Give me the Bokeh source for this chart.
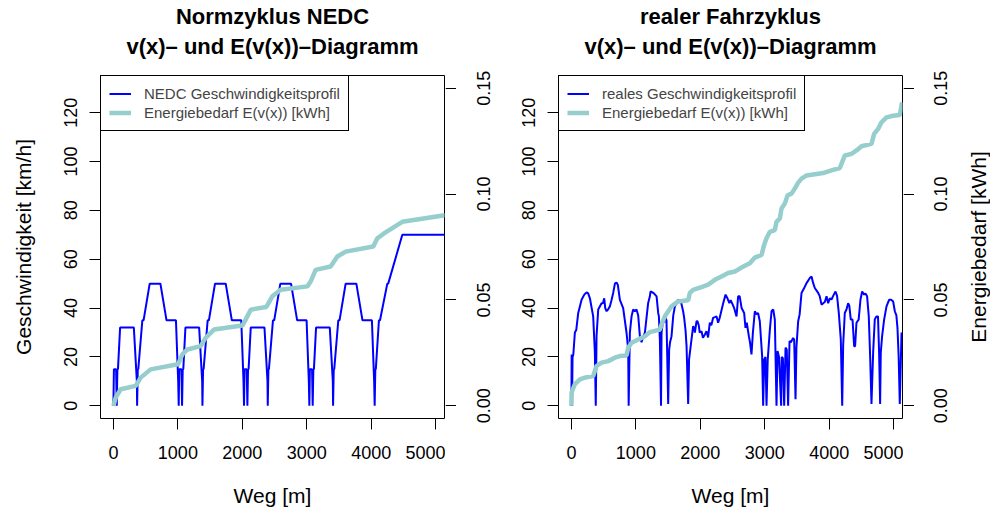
from bokeh.plotting import figure
from bokeh.models import (Range1d, LinearAxis, FixedTicker, Legend, Grid,
                          LegendItem, PrintfTickFormatter)
from bokeh.layouts import row
from bokeh.embed import file_html
from bokeh.resources import INLINE

FONT = "Liberation Sans"
BLUE = "#0000FF"
TEAL = "#96CDCD"

# ---------------- data: NEDC ----------------
nedc_weg = [0, 8, 42, 52, 62, 71, 104, 317, 364, 368, 378, 386, 449, 468, 563, 729, 824, 970, 1005,
            1013, 1021, 1055, 1065, 1075, 1084, 1117, 1330, 1377, 1381, 1391, 1399, 1462, 1481, 1576, 1742, 1837, 1983, 2018,
            2026, 2034, 2068, 2078, 2088, 2097, 2130, 2343, 2390, 2394, 2404, 2412, 2475, 2494, 2589, 2755, 2850, 2996, 3031,
            3039, 3047, 3081, 3091, 3101, 3110, 3143, 3356, 3403, 3407, 3417, 3425, 3488, 3507, 3602, 3768, 3863, 4009, 4044,
            4052, 4062, 4070, 4118, 4135, 4248, 4262, 4481, 5400]
nedc_v = [0, 15, 15, 0, 15, 15, 32, 32, 10, 0, 15, 15, 35, 35, 50, 50, 35, 35, 10,
          0, 15, 15, 0, 15, 15, 32, 32, 10, 0, 15, 15, 35, 35, 50, 50, 35, 35, 10,
          0, 15, 15, 0, 15, 15, 32, 32, 10, 0, 15, 15, 35, 35, 50, 50, 35, 35, 10,
          0, 15, 15, 0, 15, 15, 32, 32, 10, 0, 15, 15, 35, 35, 50, 50, 35, 35, 10,
          0, 15, 15, 35, 35, 50, 50, 70, 70]
nedc_e_weg = [0, 36, 113, 346, 423, 578, 1002, 1069, 1147, 1353, 1431, 1560, 2000, 2051, 2129, 2372,
              2465, 2594, 3008, 3059, 3136, 3369, 3473, 3602, 4031, 4093, 4196, 4481, 5137, 5400]
nedc_e = [0.0, 0.0039, 0.0078, 0.0094, 0.0133, 0.0172, 0.0196, 0.0243, 0.0266, 0.0282, 0.0321, 0.0360,
          0.0379, 0.0407, 0.0454, 0.0467, 0.0517, 0.0548, 0.0564, 0.0587, 0.0642, 0.0658, 0.0705, 0.0728,
          0.0752, 0.0791, 0.0814, 0.0869, 0.0900, 0.0915]

# ---------------- data: real driving cycle ----------------
real_weg = [0, 4, 10, 18, 30, 54, 75, 106, 158, 200, 235, 260, 287, 338, 364, 378, 390, 416, 468, 490,
            509, 525, 546, 570, 597, 620, 648, 675, 700, 720, 752, 803, 855, 881, 888, 907, 933, 958, 984,
            1010, 1036, 1062, 1088, 1110, 1140, 1165, 1190, 1217, 1228, 1250, 1280, 1321, 1346, 1357, 1372,
            1390, 1398, 1423, 1440, 1450, 1465, 1475, 1501, 1516, 1530, 1553, 1580, 1605, 1631, 1656, 1680,
            1700, 1733, 1749, 1770, 1786, 1811, 1825, 1863, 1888, 1900, 1915, 1941, 1956, 1975, 1990, 2018,
            2040, 2070, 2095, 2120, 2147, 2170, 2198, 2225, 2251, 2275, 2300, 2318, 2354, 2391, 2420, 2450,
            2470, 2500, 2524, 2561, 2586, 2610, 2640, 2679, 2700, 2720, 2752, 2770, 2793, 2815, 2845, 2870,
            2895, 2922, 2958, 2974, 2990, 3010, 3026, 3045, 3078, 3104, 3130, 3155, 3181, 3197, 3220, 3253,
            3262, 3280, 3300, 3321, 3340, 3361, 3383, 3405, 3439, 3455, 3476, 3490, 3517, 3540, 3569, 3610,
            3647, 3698, 3724, 3750, 3775, 3827, 3850, 3879, 3905, 3930, 3957, 3982, 4008, 4034, 4060, 4096,
            4120, 4147, 4178, 4200, 4215, 4240, 4266, 4292, 4310, 4333, 4360, 4385, 4400, 4421, 4455, 4483,
            4509, 4540, 4560, 4586, 4612, 4633, 4654, 4680, 4705, 4731, 4755, 4772, 4788, 4798, 4819, 4850,
            4887, 4927, 4960, 4990, 5016, 5040, 5057, 5075, 5093, 5120]
real_v = [0, 21, 0, 20, 21, 30, 31, 38, 43.4, 45.5, 46.4, 46, 44, 36.6, 21.8, 0, 28.5, 39.4, 42, 42,
          44, 40, 38.7, 39.5, 40.7, 43, 46.2, 50, 50.5, 49.5, 43.4, 40, 29.9, 23, 0, 29.9, 36.6, 39.4, 38.7,
          39.4, 37, 28.5, 26, 28, 29.9, 36, 42, 44.8, 46.8, 46.5, 46, 44.8, 38, 36.6, 27.2,
          0, 30, 35.3, 34, 37.3, 35.5, 35, 0.7, 23, 26, 28.5, 37, 40.7, 42, 43.4, 43,
          42.5, 38.7, 36, 31, 24.4, 0.7, 19, 27.2, 32.6, 32, 30, 34.6, 34.6, 33, 30, 30.5,
          27.8, 29.2, 30.5, 28, 34, 33, 36, 36.3, 36.6, 34, 36, 38, 42, 45.5, 44, 42,
          43.2, 41.5, 40, 36.6, 44.8, 44.8, 40, 38, 31.9, 34, 28.5, 26, 21, 30, 38.7, 37.5,
          38, 34.6, 20.4, 0, 19, 20, 0, 19, 31.2, 38.7, 39.5, 35.3, 0, 22.4, 20, 0,
          20, 19.5, 0, 23.8, 23, 0, 26.5, 26, 27.8, 27, 2.7, 24, 34.6, 37.5, 46.2, 48.2,
          50.2, 52.3, 52.9, 50.2, 48.2, 46.2, 45, 41.4, 42, 42.5, 44.8, 42, 44, 43.5, 45, 46.8,
          45, 38, 27.2, 0, 25, 38, 39.4, 42, 41, 35.3, 35.3, 24.4, 24.4, 34, 35.3, 43.4,
          46.8, 45.5, 46, 44.8, 36.6, 20.4, 0.7, 22, 35.3, 36.6, 36.6, 21.7, 0.7, 21.7, 28.5, 35.3,
          40.7, 43.4, 43.4, 42.7, 38.7, 37, 31.9, 20.4, 0.7, 30]
real_e_weg = [0, 3, 54, 132, 209, 338, 390, 468, 571, 674, 752, 855, 881, 933, 1036, 1140, 1217, 1372,
              1408, 1450, 1501, 1553, 1656, 1811, 1837, 1888, 2018, 2121, 2225, 2328, 2431, 2535, 2638,
              2767, 2845, 2949, 2989, 3026, 3078, 3155, 3181, 3233, 3259, 3310, 3352, 3414, 3465, 3517,
              3569, 3647, 3775, 3904, 4034, 4163, 4199, 4240, 4344, 4421, 4499, 4654, 4695, 4757, 4809,
              4887, 4989, 5093, 5129]
real_e = [0.0, 0.0063, 0.0102, 0.0125, 0.0133, 0.0141, 0.0188, 0.0204, 0.0211, 0.0227, 0.0235, 0.0238,
          0.0274, 0.0298, 0.0313, 0.0329, 0.0348, 0.0360, 0.0392, 0.0423, 0.0446, 0.0470, 0.0493, 0.0498,
          0.0533, 0.0548, 0.0561, 0.0572, 0.0595, 0.0611, 0.0627, 0.0634, 0.0653, 0.0673, 0.0700, 0.0713,
          0.0760, 0.0791, 0.0822, 0.0830, 0.0869, 0.0885, 0.0932, 0.0955, 0.0994, 0.1002, 0.1026, 0.1054,
          0.1073, 0.1088, 0.1094, 0.1099, 0.1112, 0.1123, 0.1151, 0.1182, 0.1190, 0.1206, 0.1226, 0.1237,
          0.1284, 0.1308, 0.1339, 0.1362, 0.1370, 0.1373, 0.1433]

v_ticks = [0, 20, 40, 60, 80, 100, 120]
weg_ticks = [0, 1000, 2000, 3000, 4000, 5000]
e_ticks = [0.0, 0.05, 0.10, 0.15]

X_RANGE = (-200, 5135)
V_RANGE = (-5.2, 135.2)
E_RANGE = (-0.006, 0.156)


def base_fig(frame_w, bl, br, yr):
    p = figure(frame_width=frame_w, frame_height=343,
               x_range=Range1d(*X_RANGE) if frame_w > 20 else Range1d(0, 1),
               y_range=Range1d(*yr),
               output_backend="svg", toolbar_location=None,
               x_axis_location=None, y_axis_location=None,
               min_border_left=bl, min_border_right=br,
               min_border_top=75, min_border_bottom=90,
               background_fill_color="white", border_fill_color="white")
    p.outline_line_color = None
    for gr in p.grid:
        gr.grid_line_color = None
        gr.visible = False
    return p


def style_axis(ax, ticks):
    ax.ticker = FixedTicker(ticks=ticks)
    ax.axis_line_color = None
    ax.major_tick_out = 11
    ax.major_tick_in = 0
    ax.major_tick_line_color = "black"
    ax.minor_tick_line_color = None
    ax.major_label_text_font = FONT
    ax.major_label_text_font_size = "18px"
    ax.major_label_text_color = "black"
    ax.axis_label_text_font = FONT
    ax.axis_label_text_font_size = "21px"
    ax.axis_label_text_font_style = "normal"
    ax.axis_label_text_color = "black"


def text_axis(label, standoff, size, bold):
    ax = LinearAxis(ticker=FixedTicker(ticks=[]), axis_label=label,
                    axis_label_standoff=standoff)
    ax.axis_line_color = None
    ax.major_tick_line_color = None
    ax.minor_tick_line_color = None
    ax.major_tick_out = 0
    ax.major_label_standoff = 0
    ax.axis_label_text_font = FONT
    ax.axis_label_text_font_size = size
    ax.axis_label_text_font_style = "bold" if bold else "normal"
    ax.axis_label_text_color = "black"
    return ax


def main_panel(t1, t2, wd, v, ewd, e, leg1, ylab, bl):
    p = base_fig(344, bl, 1, V_RANGE)
    p.outline_line_color = "black"
    p.outline_line_width = 1
    p.outline_line_alpha = 1
    p.title.text = ""
    p.title.text_font_size = "1px"
    p.title.standoff = 0
    p.extra_y_ranges = {"e": Range1d(*E_RANGE)}

    # heading: inner line first (nearest the frame), outer line second
    p.add_layout(text_axis(t2, 17, "22px", True), "above")
    p.add_layout(text_axis(t1, 2, "22px", True), "above")

    xa = LinearAxis()
    style_axis(xa, weg_ticks)
    xa.axis_label = "Weg [m]"
    xa.major_label_standoff = 16
    xa.axis_label_standoff = 22
    p.add_layout(xa, "below")

    ya = LinearAxis()
    style_axis(ya, v_ticks)
    ya.major_label_orientation = "parallel"
    ya.major_label_standoff = 12
    if ylab:
        ya.axis_label = ylab
        ya.axis_label_standoff = 27
    p.add_layout(ya, "left")

    r1 = p.line(wd, v, line_color=BLUE, line_width=2)
    r2 = p.line(ewd, e, line_color=TEAL, line_width=4.5, y_range_name="e")

    legend = Legend(items=[LegendItem(label=leg1, renderers=[r1]),
                           LegendItem(label="Energiebedarf E(v(x)) [kWh]", renderers=[r2])],
                    location="top_left", margin=0, padding=8, spacing=0,
                    label_height=19, glyph_height=19, glyph_width=22,
                    label_standoff=13, border_line_color="black",
                    border_line_width=1, border_line_alpha=1,
                    background_fill_color="white", background_fill_alpha=1,
                    label_text_font=FONT, label_text_font_size="15px")
    p.add_layout(legend)
    return p


def tick_strip():
    # tick marks of the energy axis, drawn as grid lines of a narrow frame
    g = base_fig(11, 0, 0, E_RANGE)
    g.add_layout(Grid(dimension=1, ticker=FixedTicker(ticks=e_ticks),
                      grid_line_color="black", grid_line_width=1))
    return g


def label_strip(bl, elab, label_standoff):
    m = base_fig(1, bl, 0, E_RANGE)
    if elab:
        m.add_layout(text_axis(elab, 0, "21px", False), "left")
    ea = LinearAxis()
    style_axis(ea, e_ticks)
    ea.formatter = PrintfTickFormatter(format="%.2f")
    ea.major_tick_out = 0
    ea.major_tick_line_color = None
    ea.major_label_orientation = "parallel"
    ea.major_label_standoff = label_standoff
    m.add_layout(ea, "left")
    return m


p1 = main_panel("Normzyklus NEDC", "v(x)\u2013 und E(v(x))\u2013Diagramm",
                nedc_weg, nedc_v, nedc_e_weg, nedc_e, "NEDC Geschwindigkeitsprofil",
                "Geschwindigkeit [km/h]", 100)
g1 = tick_strip()
m1 = label_strip(38, None, 4)
p2 = main_panel("realer Fahrzyklus", "v(x)\u2013 und E(v(x))\u2013Diagramm",
                real_weg, real_v, real_e_weg, real_e, "reales Geschwindigkeitsprofil",
                None, 63)
g2 = tick_strip()
m2 = label_strip(75, "Energiebedarf [kWh]", 16)

layout = row(p1, g1, m1, p2, g2, m2)
open("out.html", "w").write(file_html(layout, INLINE))
